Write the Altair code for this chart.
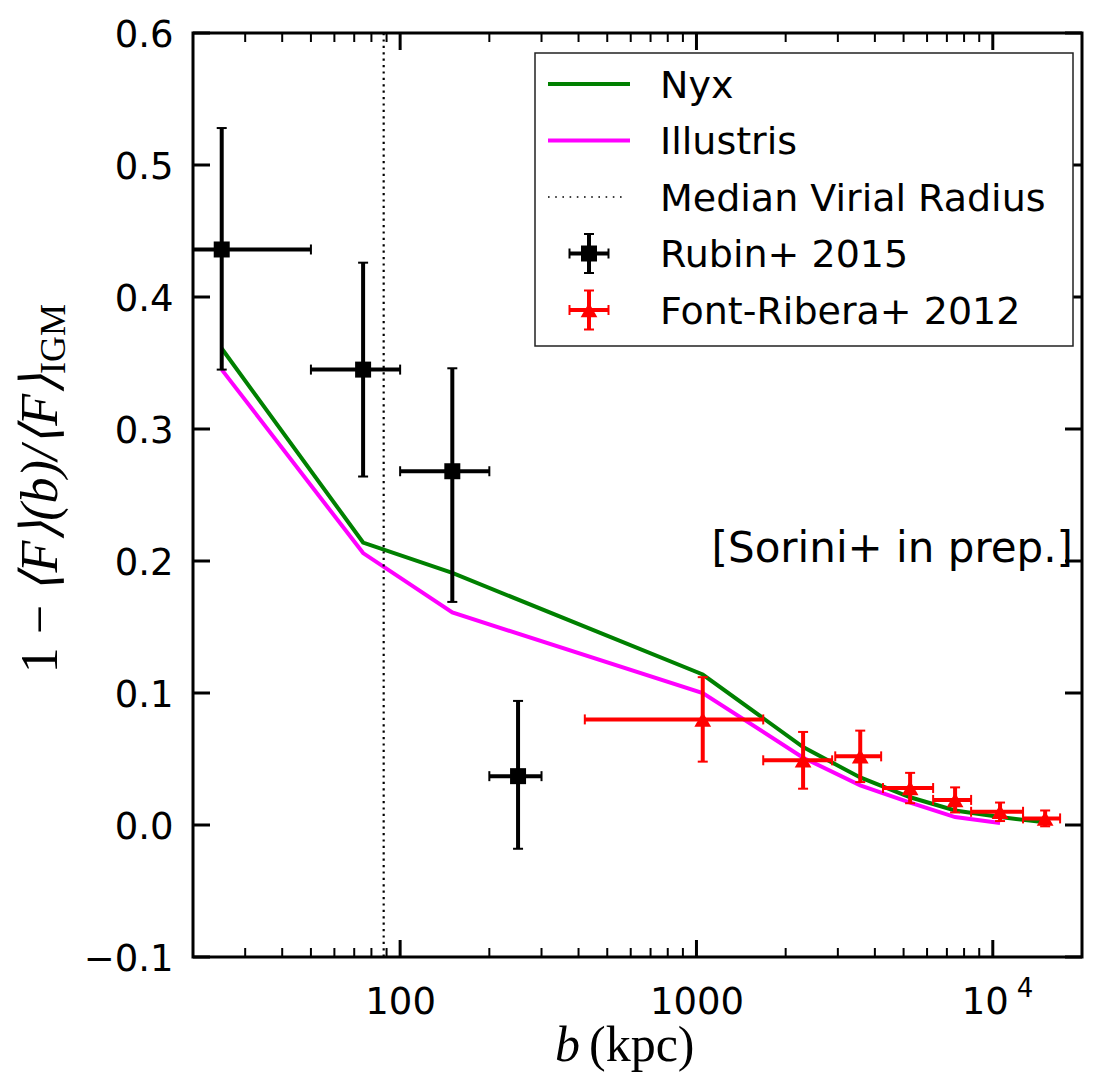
import altair as alt
import pandas as pd

# Plot-area size in pixels
W, H = 889, 924

# Rubin+ 2015: impact-parameter bins (kpc) and absorption excess
rubin_b = [25, 75, 150, 250]
rubin_b_lo = [10, 50, 100, 200]
rubin_b_hi = [50, 100, 200, 300]
rubin_val = [0.436, 0.345, 0.268, 0.037]
rubin_lo = [0.345, 0.264, 0.169, -0.018]
rubin_hi = [0.528, 0.426, 0.346, 0.094]

# Font-Ribera+ 2012
fr_b = [1050, 2290, 3570, 5260, 7460, 10580, 15020]
fr_b_lo = [420, 1680, 2940, 4260, 6290, 8450, 12650]
fr_b_hi = [1680, 2870, 4200, 6290, 8450, 12650, 16870]
fr_val = [0.080, 0.049, 0.052, 0.028, 0.019, 0.010, 0.005]
fr_err = [0.032, 0.0215, 0.0195, 0.0115, 0.0095, 0.007, 0.006]
fr_lo = [v - e for v, e in zip(fr_val, fr_err)]
fr_hi = [v + e for v, e in zip(fr_val, fr_err)]

# Simulations
nyx_b = [25, 75, 150, 1050, 2290, 3570, 5260, 7460, 10580, 15020]
nyx_val = [0.361, 0.214, 0.191, 0.114, 0.059, 0.036, 0.021, 0.011, 0.006, 0.002]
ill_b = [25, 75, 150, 1050, 2290, 3570, 5260, 7460, 10580]
ill_val = [0.345, 0.206, 0.161, 0.100, 0.051, 0.030, 0.017, 0.006, 0.0015]

virial_radius = [88]

x_major = [100, 1000, 10000]
x_plain_labels = [100, 1000]
x_power_label = [10000]
x_minor = [30, 40, 50, 60, 70, 80, 90,
           200, 300, 400, 500, 600, 700, 800, 900,
           2000, 3000, 4000, 5000, 6000, 7000, 8000, 9000]
y_ticks = [-0.1, 0.0, 0.1, 0.2, 0.3, 0.4, 0.5, 0.6]

legend_labels = ["Nyx", "Illustris", "Median Virial Radius", "Rubin+ 2015", "Font-Ribera+ 2012"]

GREEN = "#008000"
MAGENTA = "#FF00FF"
RED = "#FF0000"
TICK_FONT = "DejaVu Sans"
MATH_FONT = "Liberation Serif"

xs = alt.Scale(type="log", domain=[20, 20000], nice=False)
ys = alt.Scale(domain=[-0.1, 0.6], nice=False, zero=False)

x_axis = alt.Axis(values=x_plain_labels, ticks=False, domain=False, grid=False,
                  labelFontSize=37, labelFont=TICK_FONT, labelColor="black",
                  labelPadding=27, labelFlush=False, labelOverlap=False,
                  labelExpr="format(datum.value, 'd')",
                  title=None)
y_axis = alt.Axis(values=y_ticks, format=".1f", ticks=False, domain=False, grid=False,
                  labelFontSize=37, labelFont=TICK_FONT, labelColor="black",
                  labelPadding=20, labelOffset=2, labelFlush=False, labelOverlap=False,
                  title=None)


def X(field):
    return alt.X(field, type="quantitative", scale=xs, axis=x_axis)


def Y(field):
    return alt.Y(field, type="quantitative", scale=ys, axis=y_axis)


nyx_df = pd.DataFrame({"b": nyx_b, "v": nyx_val})
ill_df = pd.DataFrame({"b": ill_b, "v": ill_val})

nyx = alt.Chart(nyx_df).mark_line(color=GREEN, strokeWidth=4).encode(
    x=X("b"), y=Y("v"), order="b:Q")
ill = alt.Chart(ill_df).mark_line(color=MAGENTA, strokeWidth=4).encode(
    x=X("b"), y=Y("v"), order="b:Q")

vir = alt.Chart(pd.DataFrame({"b": virial_radius})).mark_rule(
    color="black", strokeWidth=2.2, strokeDash=[2.2, 4.2]).encode(
    x=X("b"), y=alt.value(0), y2=alt.value(H))


def errorbar_layers(b, blo, bhi, val, lo, hi, color, marker):
    df = pd.DataFrame({"b": b, "blo": blo, "bhi": bhi, "val": val, "lo": lo, "hi": hi})
    base = alt.Chart(df)
    vbar = base.mark_rule(color=color, strokeWidth=4, clip=True).encode(
        x=X("b"), y=Y("lo"), y2="hi")
    hbar = base.mark_rule(color=color, strokeWidth=4, clip=True).encode(
        x=X("blo"), x2="bhi", y=Y("val"))
    caps = []
    for f in ("lo", "hi"):
        caps.append(base.mark_tick(color=color, orient="horizontal", size=10,
                                   thickness=2, opacity=1, clip=True).encode(
            x=X("b"), y=Y(f)))
    for f in ("blo", "bhi"):
        caps.append(base.mark_tick(color=color, orient="vertical", size=10,
                                   thickness=2, opacity=1, clip=True).encode(
            x=X(f), y=Y("val")))
    if marker == "square":
        pts = base.mark_square(size=256, color=color, opacity=1).encode(
            x=X("b"), y=Y("val"))
    else:
        pts = base.mark_point(shape="triangle-up", filled=True, size=280,
                              color=color, opacity=1).encode(
            x=X("b"), y=Y("val"))
    return [vbar, hbar] + caps + [pts]


rubin_layers = errorbar_layers(rubin_b, rubin_b_lo, rubin_b_hi, rubin_val,
                               rubin_lo, rubin_hi, "black", "square")
fr_layers = errorbar_layers(fr_b, fr_b_lo, fr_b_hi, fr_val, fr_lo, fr_hi, RED, "triangle")

# Inward-pointing ticks on all four sides
xmaj = alt.Chart(pd.DataFrame({"t": x_major}))
xmin = alt.Chart(pd.DataFrame({"t": x_minor}))
yt = alt.Chart(pd.DataFrame({"t": y_ticks}))
tick_layers = [
    xmaj.mark_rule(color="black", strokeWidth=3).encode(x=X("t"), y=alt.value(H), y2=alt.value(H - 17)),
    xmaj.mark_rule(color="black", strokeWidth=3).encode(x=X("t"), y=alt.value(0), y2=alt.value(17)),
    xmin.mark_rule(color="black", strokeWidth=2).encode(x=X("t"), y=alt.value(H), y2=alt.value(H - 9)),
    xmin.mark_rule(color="black", strokeWidth=2).encode(x=X("t"), y=alt.value(0), y2=alt.value(9)),
    yt.mark_rule(color="black", strokeWidth=3).encode(y=Y("t"), x=alt.value(0), x2=alt.value(17)),
    yt.mark_rule(color="black", strokeWidth=3).encode(y=Y("t"), x=alt.value(W), x2=alt.value(W - 17)),
]

# 10^4 tick label with a raised exponent
pow_df = alt.Chart(pd.DataFrame({"t": x_power_label}))
power_layers = [
    pow_df.mark_text(text="10", align="left", baseline="alphabetic", dx=-31,
                     font=TICK_FONT, fontSize=37, color="black").encode(
        x=X("t"), y=alt.value(H + 57)),
    pow_df.mark_text(text="4", align="left", baseline="alphabetic", dx=24,
                     font=TICK_FONT, fontSize=26, color="black").encode(
        x=X("t"), y=alt.value(H + 40)),
]

# Legend box
one = pd.DataFrame({"k": [0]})
leg_layers = [
    alt.Chart(one).mark_rect(fill="white", stroke="#222222", strokeWidth=1.5).encode(
        x=alt.value(342), x2=alt.value(880), y=alt.value(20), y2=alt.value(313)),
]
row_y = [51 + 56.5 * i for i in range(len(legend_labels))]
hx0, hx1, hxc, half = 355, 437, 396, 19.5
leg_layers.append(alt.Chart(one).mark_rule(color=GREEN, strokeWidth=4).encode(
    x=alt.value(hx0), x2=alt.value(hx1), y=alt.value(row_y[0])))
leg_layers.append(alt.Chart(one).mark_rule(color=MAGENTA, strokeWidth=4).encode(
    x=alt.value(hx0), x2=alt.value(hx1), y=alt.value(row_y[1])))
leg_layers.append(alt.Chart(one).mark_rule(color="black", strokeWidth=1.6, strokeDash=[1.6, 5.6]).encode(
    x=alt.value(hx0), x2=alt.value(hx1 - 6), y=alt.value(row_y[2])))
for i, color, shape, sz in ((3, "black", "square", 256), (4, RED, "triangle-up", 280)):
    yc = row_y[i]
    leg_layers += [
        alt.Chart(one).mark_rule(color=color, strokeWidth=4).encode(
            x=alt.value(hxc), y=alt.value(yc - half), y2=alt.value(yc + half)),
        alt.Chart(one).mark_rule(color=color, strokeWidth=4).encode(
            x=alt.value(hxc - half), x2=alt.value(hxc + half), y=alt.value(yc)),
        alt.Chart(one).mark_rule(color=color, strokeWidth=2).encode(
            x=alt.value(hxc - 5), x2=alt.value(hxc + 5), y=alt.value(yc - half)),
        alt.Chart(one).mark_rule(color=color, strokeWidth=2).encode(
            x=alt.value(hxc - 5), x2=alt.value(hxc + 5), y=alt.value(yc + half)),
        alt.Chart(one).mark_rule(color=color, strokeWidth=2).encode(
            x=alt.value(hxc - half), y=alt.value(yc - 5), y2=alt.value(yc + 5)),
        alt.Chart(one).mark_rule(color=color, strokeWidth=2).encode(
            x=alt.value(hxc + half), y=alt.value(yc - 5), y2=alt.value(yc + 5)),
        alt.Chart(one).mark_point(shape=shape, filled=True, size=sz, color=color, opacity=1).encode(
            x=alt.value(hxc), y=alt.value(yc)),
    ]
for i, lab in enumerate(legend_labels):
    leg_layers.append(alt.Chart(pd.DataFrame({"t": [lab]})).mark_text(
        align="left", baseline="alphabetic", font=TICK_FONT, fontSize=38, color="black").encode(
        text="t:N", x=alt.value(467), y=alt.value(row_y[i] + 13.8)))

# Annotation
note = alt.Chart(pd.DataFrame({"t": ["[Sorini+ in prep.]"]})).mark_text(
    align="right", baseline="alphabetic", font=TICK_FONT, fontSize=42, color="black").encode(
    text="t:N", x=alt.value(880), y=alt.value(529))


# Axis titles (math-style)
def label(txt, x, y, size, style="normal", align="left", angle=0):
    return alt.Chart(pd.DataFrame({"t": [txt]})).mark_text(
        align=align, baseline="alphabetic", font=MATH_FONT, fontSize=size,
        fontStyle=style, angle=angle, color="black").encode(
        text="t:N", x=alt.value(x), y=alt.value(y))


title_layers = [
    label("b", 387, 1028, 50, "italic", "right"),
    label("(kpc)", 396, 1028, 50, "normal", "left"),
    label("IGM", -128, 341, 36, "normal", "left", 270),
    label("\u27e8F\u27e9(b)/\u27e8F\u27e9", -136, 341, 52, "italic", "right", 270),
    label("1 \u2212", -136, 572, 52, "normal", "right", 270),
]

chart = alt.layer(
    nyx, ill, vir, *rubin_layers, *fr_layers, *tick_layers, *power_layers,
    *leg_layers, note, *title_layers
).properties(
    width=W, height=H,
    background="white",
    autosize=alt.AutoSizeParams(type="none"),
    padding={"left": 193, "top": 33, "right": 14, "bottom": 124},
).configure_view(
    stroke="black", strokeWidth=3
)

chart.save("out.html", embed_options={"renderer": "svg", "actions": False})
